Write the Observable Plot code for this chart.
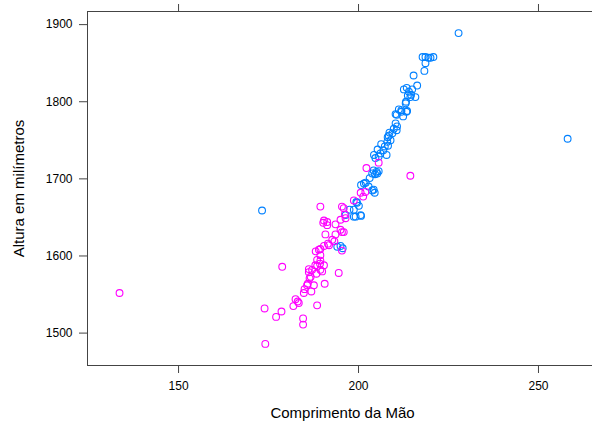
<!DOCTYPE html>
<html><head><meta charset="utf-8">
<script src="https://cdn.jsdelivr.net/npm/d3@7"></script>
<script src="https://cdn.jsdelivr.net/npm/@observablehq/plot@0.6"></script>
<style>
html,body{margin:0;padding:0;overflow:hidden;background:#fff;}
svg{max-width:none !important;}
g[aria-label="x-axis label"] text, g[aria-label="y-axis label"] text{font-size:15px;}
</style>
</head><body><div id="chart"></div>
<script>
const groups = ["Masculino", "Feminino"];
const colors = ["#0080ff", "#ff00ff"];
const xLabel = "Comprimento da Mão";
const yLabel = "Altura em milímetros";
const xTicks = [150, 200, 250];
const yTicks = [1500, 1600, 1700, 1800, 1900];
const xDomain = [124.7, 266.4];
const yDomain = [1458, 1917];

const blueX = [227.8,217.8,218.6,219.4,220.0,220.8,218.6,218.3,215.3,216.3,212.6,213.4,214.0,214.6,215.8,214.4,213.7,214.9,213.2,213.1,211.2,211.9,213.5,210.6,212.4,210.3,211.9,213.3,210.3,210.7,209.8,210.6,209.4,208.4,208.6,208.1,208.9,208.0,206.3,207.3,208.2,205.3,206.9,206.1,207.8,204.3,205.6,204.7,204.2,205.0,205.6,203.8,204.6,205.2,203.1,202.0,201.5,200.7,204.2,204.5,203.8,202.8,199.4,200.1,199.6,197.5,198.7,200.7,198.7,199.2,196.4,200.6,195.0,194.1,195.6,258.1,173.2];
const blueY = [1889,1858,1858,1857,1857,1858,1850,1840,1834,1821,1816,1818,1813,1809,1806,1806,1808,1816,1800,1798,1790,1789,1788,1783,1781,1784,1787,1787,1772,1768,1765,1763,1759,1756,1760,1754,1750,1748,1745,1742,1743,1738,1737,1733,1731,1731,1729,1727,1711,1709,1710,1707,1706,1707,1701,1695,1694,1692,1686,1682,1685,1690,1670,1665,1669,1660,1660,1652,1651,1651,1653,1653,1613,1612,1610,1752,1659];

const pinkX = [189.4,195.9,196.2,190.2,191.3,193.6,195.0,195.9,190.8,193.6,192.7,193.3,191.5,190.4,189.4,188.1,189.0,191.8,195.4,189.4,188.5,189.3,188.0,190.4,186.2,189.4,187.1,188.3,186.4,185.9,187.6,190.6,194.5,185.0,184.8,186.9,182.5,183.1,181.9,188.5,184.6,184.6,133.6,178.8,173.9,177.1,178.6,174.1,183.4,186.7,189.9,189.4,202.2,205.6,214.4,201.9,200.6,201.3,198.7,195.4,195.0,196.4,190.4,191.3,195.4,185.7,186.2,188.5];
const pinkY = [1664,1662,1654,1643,1640,1641,1634,1631,1628,1628,1621,1619,1616,1613,1609,1606,1608,1614,1607,1601,1595,1590,1588,1588,1583,1582,1582,1577,1571,1564,1562,1564,1578,1557,1552,1554,1544,1541,1535,1536,1519,1511,1552,1586,1532,1521,1528,1486,1539,1573,1580,1594,1714,1721,1704,1683,1682,1677,1672,1664,1647,1649,1646,1644,1631,1562,1579,1587];

const data = [
  ...blueX.map((x, i) => ({x, y: blueY[i], grp: groups[0]})),
  ...pinkX.map((x, i) => ({x, y: pinkY[i], grp: groups[1]}))
];

const chart = Plot.plot({
  width: 600, height: 425,
  marginTop: 11, marginBottom: 60, marginLeft: 87, marginRight: 3,
  style: {fontFamily: "'Liberation Sans', Arial, Helvetica, sans-serif", fontSize: "12px", color: "#000", background: "#fff", maxWidth: "none"},
  x: {domain: xDomain},
  y: {domain: yDomain},
  color: {domain: groups, range: colors},
  marks: [
    Plot.frame({stroke: "#444"}),
    Plot.axisX({anchor: "bottom", ticks: xTicks, tickSize: 8, tickPadding: 8, stroke: "#444", tickFormat: "d", label: xLabel, labelAnchor: "center", labelArrow: "none", labelOffset: 52}),
    Plot.axisX({anchor: "top", ticks: xTicks, tickSize: 8, stroke: "#444", tickFormat: () => "", label: null}),
    Plot.axisY({anchor: "left", ticks: yTicks, tickSize: 8, tickPadding: 7, stroke: "#444", tickFormat: "d", label: yLabel, labelAnchor: "center", labelArrow: "none", labelOffset: 74}),
    Plot.dot(data, {x: "x", y: "y", stroke: "grp", r: 3.4, strokeWidth: 1.1, fill: "none"})
  ]
});
document.getElementById("chart").appendChild(chart);
</script>
</body></html>
